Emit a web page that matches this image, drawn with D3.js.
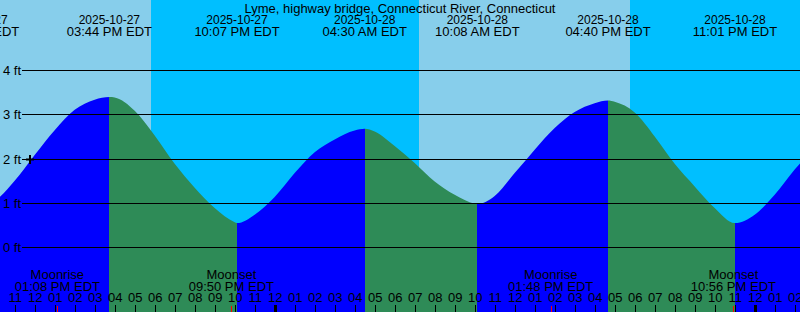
<!DOCTYPE html>
<html>
<head>
<meta charset="utf-8">
<script src="https://cdn.jsdelivr.net/npm/d3@7"></script>
<style>
  html, body { margin: 0; padding: 0; background: #fff; }
  svg { display: block; font-family: "Liberation Sans", Arial, sans-serif; }
</style>
</head>
<body>
<svg id="chart" width="800" height="312"></svg>
<script>
// ── Tide graph data ─────────────────────────────────────────────────────────
const STATION = "Lyme, highway bridge, Connecticut River, Connecticut";
const WINDOW  = ["2025-10-27 10:16", "2025-10-29 02:16"];

// high / low water
const tideEventTimes   = ["2025-10-27 09:07", "2025-10-27 15:44", "2025-10-27 22:07",
                          "2025-10-28 04:30", "2025-10-28 10:08", "2025-10-28 16:40",
                          "2025-10-28 23:01"];
const tideEventTypes   = ["low", "high", "low", "high", "low", "high", "low"];
const tideEventHeights = [0.95, 3.39, 0.54, 2.67, 0.97, 3.31, 0.54];

// hourly water level (ft), first reading at 10:00 on the 27th
const hourlyStart   = "2025-10-27 10:00";
const hourlyHeights = [1.05, 1.50, 2.08, 2.64, 3.10, 3.33, 3.38, 3.08, 2.52, 1.88,
                       1.34, 0.88, 0.56, 0.73, 1.13, 1.67, 2.14, 2.43, 2.63, 2.61,
                       2.28, 1.90, 1.48, 1.18, 0.98, 1.15, 1.67, 2.20, 2.69, 3.05,
                       3.25, 3.28, 3.04, 2.50, 1.88, 1.37, 0.88, 0.54, 0.73, 1.18,
                       1.75, 2.25];

const sunTimes  = ["2025-10-27 17:49", "2025-10-28 07:13", "2025-10-28 17:46"];
const sunTypes  = ["set", "rise", "set"];

const moonTimes = ["2025-10-27 13:08", "2025-10-27 21:50", "2025-10-28 13:48", "2025-10-28 22:56"];
const moonTypes = ["Moonrise", "Moonset", "Moonrise", "Moonset"];

const feetTicks = [0, 1, 2, 3, 4];
const nowMark   = { time: "2025-10-27 11:46", height: 2.0 };

// ── Setup ───────────────────────────────────────────────────────────────────
const W = 800, H = 312;
const COLORS = { day: "#87ceeb", night: "#00bfff", rising: "#0000ff", falling: "#2e8b57" };
const FONT = 13;

const parse = d3.timeParse("%Y-%m-%d %H:%M");
const svg = d3.select("#chart");

const x = d3.scaleTime().domain(WINDOW.map(parse)).range([0, W]);
const y = d3.scaleLinear().domain([0, 4]).range([247, 70]);

const events = tideEventTimes.map((t, i) => ({
  t: parse(t), type: tideEventTypes[i], h: tideEventHeights[i],
}));
const t0 = parse(hourlyStart);
const samples = hourlyHeights
  .map((h, i) => ({ t: d3.timeHour.offset(t0, i), h }))
  .concat(events.map(e => ({ t: e.t, h: e.h })))
  .sort((a, b) => a.t - b.t);

// ── Day / night background ─────────────────────────────────────────────────
const sun = sunTimes.map((t, i) => ({ t: parse(t), type: sunTypes[i] }));
const bands = [];
let bandStart = x.domain()[0];
let isDay = sun[0].type === "set";
sun.forEach(s => {
  bands.push({ a: bandStart, b: s.t, day: isDay });
  bandStart = s.t;
  isDay = s.type === "rise";
});
bands.push({ a: bandStart, b: x.domain()[1], day: isDay });

svg.append("g").selectAll("rect")
  .data(bands).join("rect")
  .attr("x", d => x(d.a))
  .attr("y", 0)
  .attr("width", d => x(d.b) - x(d.a))
  .attr("height", H)
  .attr("fill", d => d.day ? COLORS.day : COLORS.night)
  .attr("shape-rendering", "crispEdges");

// ── Tide fill: blue while rising, green while falling ─────────────────────
const area = d3.area()
  .x(d => x(d.t))
  .y0(H)
  .y1(d => y(d.h))
  .curve(d3.curveMonotoneX);

svg.append("clipPath").attr("id", "tide-clip")
  .append("path").attr("d", area(samples));

const segments = events.map((e, i) => ({
  a: e.t,
  b: i + 1 < events.length ? events[i + 1].t : x.domain()[1],
  rising: e.type === "low",
}));

svg.append("g").attr("clip-path", "url(#tide-clip)")
  .selectAll("rect").data(segments).join("rect")
  .attr("x", d => x(d.a))
  .attr("y", 0)
  .attr("width", d => x(d.b) - x(d.a))
  .attr("height", H)
  .attr("fill", d => d.rising ? COLORS.rising : COLORS.falling)
  .attr("shape-rendering", "crispEdges");

// ── Height grid ─────────────────────────────────────────────────────────────
svg.append("g").selectAll("line")
  .data(feetTicks).join("line")
  .attr("x1", 22).attr("x2", W)
  .attr("y1", d => Math.round(y(d)) + 0.5)
  .attr("y2", d => Math.round(y(d)) + 0.5)
  .attr("stroke", "#000")
  .attr("stroke-width", 1)
  .attr("shape-rendering", "crispEdges");

svg.append("g").selectAll("text")
  .data(feetTicks).join("text")
  .attr("x", 3)
  .attr("y", d => Math.round(y(d)) + 4.5)
  .attr("font-size", FONT)
  .text(d => `${d} ft`);

// "+" marker
const mx = x(parse(nowMark.time)), my = Math.round(y(nowMark.height)) + 0.5;
svg.append("path")
  .attr("d", `M${mx - 4},${my}H${mx + 4}M${mx},${my - 4.5}V${my + 4.5}`)
  .attr("stroke", "#000")
  .attr("stroke-width", 2)
  .attr("fill", "none");

// ── Top labels ──────────────────────────────────────────────────────────────
svg.append("text")
  .attr("x", W / 2).attr("y", 12.5)
  .attr("text-anchor", "middle")
  .attr("font-size", FONT)
  .text(STATION);

const fmtDate = d3.timeFormat("%Y-%m-%d");
const fmtTime = d3.timeFormat("%I:%M %p EDT");

const evLabels = svg.append("g").selectAll("g")
  .data(events).join("g")
  .attr("transform", d => `translate(${x(d.t)},0)`)
  .attr("text-anchor", "middle");
evLabels.append("text").attr("y", 24).attr("font-size", 12).text(d => fmtDate(d.t));
evLabels.append("text").attr("y", 36).attr("font-size", FONT).text(d => fmtTime(d.t));

// ── Moon events ─────────────────────────────────────────────────────────────
const moon = moonTimes.map((t, i) => ({ t: parse(t), type: moonTypes[i] }));
const moonG = svg.append("g").selectAll("g")
  .data(moon).join("g")
  .attr("transform", d => `translate(${x(d.t)},0)`)
  .attr("text-anchor", "middle")
  .attr("font-size", FONT);
moonG.append("text").attr("y", 278.5).text(d => d.type);
moonG.append("text").attr("y", 290.5).text(d => fmtTime(d.t));

// ── Hour axis along the bottom ───────────────────────────────────────────────
const hours = d3.timeHour.range(x.domain()[0], d3.timeHour.offset(x.domain()[1], 1));
const axis = d3.axisTop(x)
  .tickValues(hours)
  .tickFormat(d3.timeFormat("%I"))
  .tickSize(7)
  .tickPadding(3);

const axG = svg.append("g")
  .attr("transform", `translate(0,${H})`)
  .call(axis);
axG.select(".domain").remove();
axG.selectAll("text")
  .attr("font-size", FONT)
  .attr("font-family", "'Liberation Sans', Arial, sans-serif")
  .attr("fill", "#000");
axG.selectAll("line")
  .attr("stroke", "#000")
  .attr("stroke-width", d => d.getHours() === 0 ? 3 : 1)
  .attr("shape-rendering", "crispEdges");

// moon rise / set ticks
svg.append("g").selectAll("line")
  .data(moon).join("line")
  .attr("x1", d => Math.round(x(d.t)) + 0.5)
  .attr("x2", d => Math.round(x(d.t)) + 0.5)
  .attr("y1", 306).attr("y2", H)
  .attr("stroke", "#ff0000")
  .attr("stroke-width", 1)
  .attr("shape-rendering", "crispEdges");
</script>
</body>
</html>
